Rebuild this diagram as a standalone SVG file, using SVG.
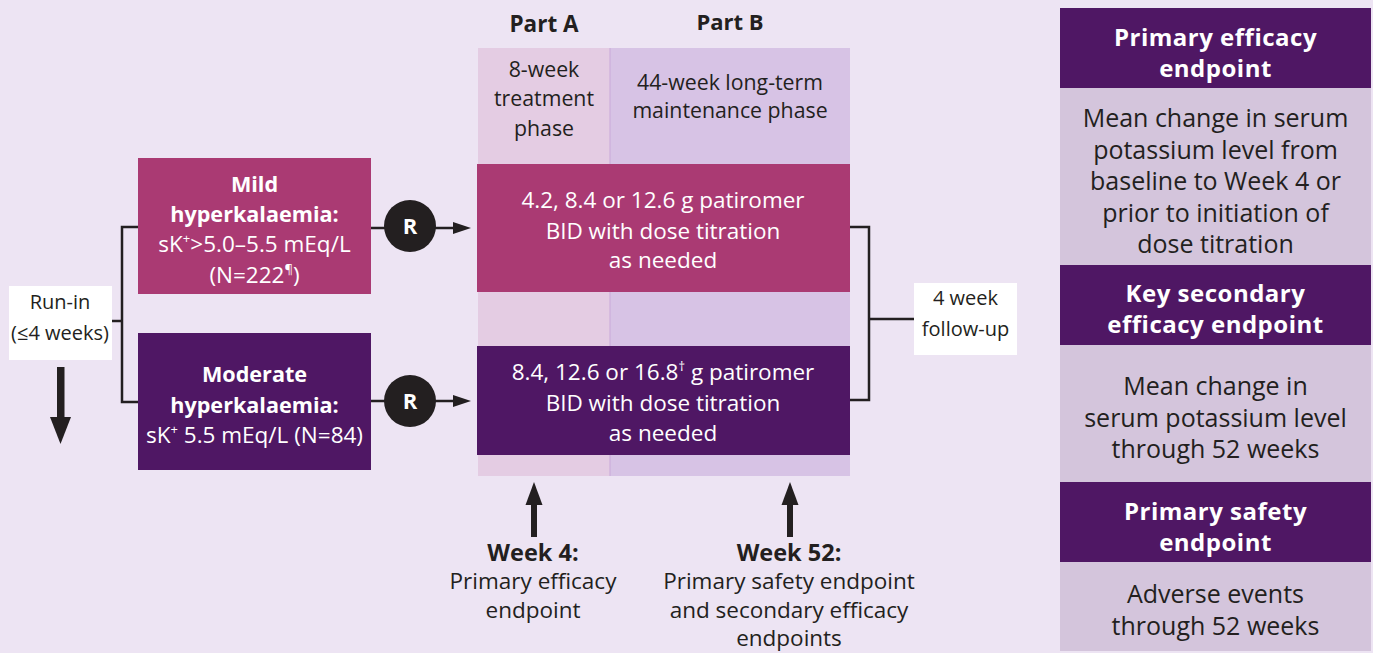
<svg xmlns="http://www.w3.org/2000/svg" width="1373" height="653" viewBox="0 0 1373 653">
<style>
text{font-family:"Open Sans","Liberation Sans",sans-serif;text-anchor:middle;fill:#231f20}
.b{font-weight:bold}
.w{fill:#fff}
.ln{stroke:#231f20;stroke-width:2.5;fill:none}
.ah{fill:#231f20}
.ph{font-size:21.3px}
.bx{font-size:21.6px;font-weight:bold;fill:#fff}
.bxr{font-size:22.5px;fill:#fff}
.tr{font-size:22.5px;fill:#fff}
.wk{font-size:23.5px;font-weight:bold}
.wr{font-size:22.5px}
.ph2{font-size:24px;font-weight:bold;fill:#fff;letter-spacing:0.5px}
.pr{font-size:25px}
</style>
<rect x="0" y="0" width="1373" height="653" fill="#ede4f3"/>
<g id="phases">
<rect x="478" y="48" width="132" height="428" fill="#e4cce3"/>
<rect x="610" y="48" width="240" height="428" fill="#d7c3e5"/>
<line x1="610" y1="48" x2="610" y2="476" stroke="#c9a9d9" stroke-width="1"/>
<text class="b" x="544" y="32" font-size="22.5">Part A</text>
<text class="b" x="730" y="30" font-size="22">Part B</text>
<text class="ph" x="544" y="77">8-week</text>
<text class="ph" x="544" y="106">treatment</text>
<text class="ph" x="544" y="136">phase</text>
<text class="ph" x="730" y="90">44-week long-term</text>
<text class="ph" x="730" y="118">maintenance phase</text>
</g>
<g id="connectors">
<polyline class="ln" points="138,227 122,227 122,402 138,402"/>
<line class="ln" x1="112" y1="321" x2="122" y2="321"/>
<line class="ln" x1="371" y1="228" x2="455" y2="228"/>
<polygon class="ah" points="453,222 471,228 453,234"/>
<line class="ln" x1="371" y1="401" x2="455" y2="401"/>
<polygon class="ah" points="453,395 471,401 453,407"/>
<polyline class="ln" points="850,227 869,227 869,400 850,400"/>
<line class="ln" x1="869" y1="319" x2="914" y2="319"/>
<rect class="ah" x="57" y="367" width="7.5" height="52"/>
<polygon class="ah" points="50,417 71,417 60.5,444"/>
<rect class="ah" x="531" y="503" width="6" height="34"/>
<polygon class="ah" points="525.5,505 542.5,505 534,482"/>
<rect class="ah" x="787" y="503" width="6" height="34"/>
<polygon class="ah" points="781.5,505 798.5,505 790,482"/>
</g>
<g id="runin">
<rect x="9" y="286" width="103" height="74" fill="#fff"/>
<text x="60" y="309" font-size="20">Run-in</text>
<text x="60" y="340" font-size="20">(≤4 weeks)</text>
</g>
<g id="mild">
<rect x="138" y="158" width="233" height="136" fill="#aa3a73"/>
<text class="bx" x="254.5" y="192">Mild</text>
<text class="bx" x="254.5" y="222">hyperkalaemia:</text>
<text class="bxr" x="254.5" y="252">sK<tspan font-size="13" dy="-9">+</tspan><tspan dy="9">&gt;5.0–5.5 mEq/L</tspan></text>
<text class="bxr" x="254.5" y="283">(N=222<tspan font-size="13" dy="-9">¶</tspan><tspan dy="9">)</tspan></text>
</g>
<g id="moderate">
<rect x="138" y="333" width="233" height="137" fill="#4f1764"/>
<text class="bx" x="254.5" y="382">Moderate</text>
<text class="bx" x="254.5" y="413">hyperkalaemia:</text>
<text class="bxr" x="254.5" y="443">sK<tspan font-size="13" dy="-9">+</tspan><tspan dy="9"> 5.5 mEq/L (N=84)</tspan></text>
</g>
<g id="r1">
<circle cx="410" cy="226" r="26" fill="#231f20"/>
<text class="b w" x="410" y="234" font-size="22">R</text>
</g>
<g id="r2">
<circle cx="410" cy="401" r="26" fill="#231f20"/>
<text class="b w" x="410" y="409" font-size="22">R</text>
</g>
<g id="treat-mild">
<rect x="477" y="164" width="373" height="128" fill="#aa3a73"/>
<text class="tr" x="663" y="208">4.2, 8.4 or 12.6 g patiromer</text>
<text class="tr" x="663" y="239">BID with dose titration</text>
<text class="tr" x="663" y="268">as needed</text>
</g>
<g id="treat-moderate">
<rect x="477" y="346" width="373" height="109" fill="#4f1764"/>
<text class="tr" x="663" y="380">8.4, 12.6 or 16.8<tspan font-size="13" dy="-9">†</tspan><tspan dy="9"> g patiromer</tspan></text>
<text class="tr" x="663" y="411">BID with dose titration</text>
<text class="tr" x="663" y="441">as needed</text>
</g>
<g id="followup">
<rect x="914" y="283" width="103" height="72" fill="#fff"/>
<text x="965.5" y="305" font-size="20">4 week</text>
<text x="965.5" y="336" font-size="20">follow-up</text>
</g>
<g id="week4">
<text class="wk" x="533" y="561">Week 4:</text>
<text class="wr" x="533" y="589">Primary efficacy</text>
<text class="wr" x="533" y="618">endpoint</text>
</g>
<g id="week52">
<text class="wk" x="789" y="561">Week 52:</text>
<text class="wr" x="789" y="589">Primary safety endpoint</text>
<text class="wr" x="789" y="618">and secondary efficacy</text>
<text class="wr" x="789" y="646">endpoints</text>
</g>
<g id="panel-primary">
<rect x="1060" y="8" width="311" height="80" fill="#4f1764"/>
<text class="ph2" x="1215.5" y="46">Primary efficacy</text>
<text class="ph2" x="1215.5" y="77">endpoint</text>
<rect x="1060" y="88" width="311" height="177" fill="#d4c5dc"/>
<text class="pr" x="1215.5" y="127">Mean change in serum</text>
<text class="pr" x="1215.5" y="159">potassium level from</text>
<text class="pr" x="1215.5" y="190">baseline to Week 4 or</text>
<text class="pr" x="1215.5" y="222">prior to initiation of</text>
<text class="pr" x="1215.5" y="253">dose titration</text>
</g>
<g id="panel-secondary">
<rect x="1060" y="265" width="311" height="80" fill="#4f1764"/>
<text class="ph2" x="1215.5" y="302">Key secondary</text>
<text class="ph2" x="1215.5" y="333">efficacy endpoint</text>
<rect x="1060" y="345" width="311" height="137" fill="#d4c5dc"/>
<text class="pr" x="1215.5" y="395">Mean change in</text>
<text class="pr" x="1215.5" y="427">serum potassium level</text>
<text class="pr" x="1215.5" y="458">through 52 weeks</text>
</g>
<g id="panel-safety">
<rect x="1060" y="482" width="311" height="80" fill="#4f1764"/>
<text class="ph2" x="1215.5" y="520">Primary safety</text>
<text class="ph2" x="1215.5" y="551">endpoint</text>
<rect x="1060" y="562" width="311" height="89" fill="#d4c5dc"/>
<text class="pr" x="1215.5" y="603">Adverse events</text>
<text class="pr" x="1215.5" y="635">through 52 weeks</text>
</g>
</svg>
